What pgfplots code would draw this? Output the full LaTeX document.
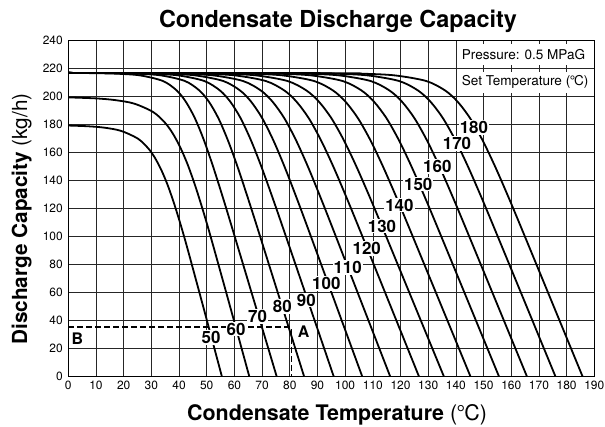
\documentclass[border=0pt]{standalone}
\usepackage{fontspec}
\setmainfont{TeX Gyre Heros}
\usepackage{pgfplots}
\pgfplotsset{compat=1.18}
\tikzset{
  curve/.style={black, line width=1.8bp, smooth, tension=0.5},
  lab/.style={fill=white, inner sep=1pt, font=\bfseries\fontsize{17}{17}\selectfont},
}
\begin{document}
\begin{tikzpicture}
\useasboundingbox (0,0) rectangle (605bp,427bp);
\begin{axis}[
  at={(68.3bp,50.3bp)}, anchor=south west,
  width=526bp, height=336bp, scale only axis,
  xmin=0, xmax=190, ymin=0, ymax=240,
  xtick={0,10,...,190}, ytick={0,20,...,240},
  grid=major,
  major grid style={black!85, line width=0.6bp},
  axis line style={black, line width=0.8bp},
  major tick length=0pt,
  tick label style={font=\fontsize{12}{14}\selectfont, /pgf/number format/assume math mode=true},
  xticklabel style={yshift=-1bp},
  yticklabel style={xshift=-2bp},
]
% legend box
\fill[white] (axis cs:140.4,202.3) rectangle (axis cs:189.6,217.7);
\fill[white] (axis cs:140.4,222.3) rectangle (axis cs:189.6,237.7);
\node[anchor=west, font=\fontsize{13.6}{15}\selectfont] at (axis cs:140.9,230.3) {Pressure: 0.5 MPaG};
\node[anchor=west, font=\fontsize{13.6}{15}\selectfont] at (axis cs:140.9,210.3) {Set Temperature (\kern-0.5pt°\kern-1ptC)};
% dashed reading line
\addplot[black, line width=1.8bp, dash pattern=on 6bp off 3bp] coordinates {(0,35.3) (80.6,35.3) (80.6,0)};
% curves
\addplot[curve] coordinates {(0,179.4) (6.85,178.9) (12.93,177.9) (19.01,175.6) (25.09,170.1) (28.74,163.4) (31.18,156.7) (33.61,147.6) (36.04,136.1) (38.47,122.1) (40.91,106.4) (43.34,89.4) (49.42,45) (55.5,0)};
\addplot[curve] coordinates {(0,199.5) (9.84,198.8) (16.79,197.6) (23.73,195.1) (30.68,189.0) (34.84,181.6) (37.62,174.1) (40.4,164.0) (43.18,151.2) (45.96,135.7) (48.73,118.2) (51.51,99.4) (58.46,50) (65.4,0)};
\addplot[curve] coordinates {(0,217) (9.54,216.8) (17.76,216.4) (25.98,215.2) (34.2,211.2) (39.13,204.5) (42.42,196.5) (45.71,184.7) (49.0,168.9) (52.28,150.2) (55.57,129.7) (58.86,108.4) (67.08,54.25) (75.3,0)};
\addplot[curve] coordinates {(0,217) (16.31,216.8) (24.92,216.4) (33.53,215.2) (42.14,211.2) (47.31,204.5) (50.76,196.5) (54.2,184.7) (57.64,168.9) (61.09,150.2) (64.53,129.7) (67.98,108.4) (76.59,54.25) (85.2,0)};
\addplot[curve] coordinates {(0,217) (21.07,216.8) (30.43,216.4) (39.78,215.2) (49.13,211.2) (54.74,204.5) (58.49,196.5) (62.23,184.7) (65.97,168.9) (69.71,150.2) (73.45,129.7) (77.19,108.4) (86.55,54.25) (95.9,0)};
\addplot[curve] coordinates {(0,217) (25.83,216.8) (35.88,216.4) (45.92,215.2) (55.97,211.2) (62.0,204.5) (66.01,196.5) (70.03,184.7) (74.05,168.9) (78.07,150.2) (82.09,129.7) (86.11,108.4) (96.15,54.25) (106.2,0)};
\addplot[curve] coordinates {(0,217) (31.2,216.8) (41.84,216.4) (52.48,215.2) (63.11,211.2) (69.5,204.5) (73.75,196.5) (78.01,184.7) (82.26,168.9) (86.52,150.2) (90.77,129.7) (95.03,108.4) (105.66,54.25) (116.3,0)};
\addplot[curve] coordinates {(0,217) (38.13,216.8) (49.2,216.4) (60.27,215.2) (71.34,211.2) (77.99,204.5) (82.41,196.5) (86.84,184.7) (91.27,168.9) (95.7,150.2) (100.13,129.7) (104.56,108.4) (115.63,54.25) (126.7,0)};
\addplot[curve] coordinates {(0,217) (45.28,216.8) (56.59,216.4) (67.89,215.2) (79.19,211.2) (85.97,204.5) (90.49,196.5) (95.01,184.7) (99.53,168.9) (104.05,150.2) (108.58,129.7) (113.1,108.4) (124.4,54.25) (135.7,0)};
\addplot[curve] coordinates {(0,217) (54.88,216.8) (66.19,216.4) (77.49,215.2) (88.79,211.2) (95.57,204.5) (100.09,196.5) (104.61,184.7) (109.13,168.9) (113.65,150.2) (118.18,129.7) (122.7,108.4) (134.0,54.25) (145.3,0)};
\addplot[curve] coordinates {(0,217) (65.18,216.8) (76.49,216.4) (87.79,215.2) (99.09,211.2) (105.87,204.5) (110.39,196.5) (114.91,184.7) (119.43,168.9) (123.95,150.2) (128.48,129.7) (133.0,108.4) (144.3,54.25) (155.6,0)};
\addplot[curve] coordinates {(0,217) (75.28,216.8) (86.59,216.4) (97.89,215.2) (109.19,211.2) (115.97,204.5) (120.49,196.5) (125.01,184.7) (129.53,168.9) (134.05,150.2) (138.58,129.7) (143.1,108.4) (154.4,54.25) (165.7,0)};
\addplot[curve] coordinates {(0,217) (85.58,216.8) (96.89,216.4) (108.19,215.2) (119.49,211.2) (126.27,204.5) (130.79,196.5) (135.31,184.7) (139.83,168.9) (144.35,150.2) (148.88,129.7) (153.4,108.4) (164.7,54.25) (176.0,0)};
\addplot[curve] coordinates {(0,217) (95.38,216.8) (106.69,216.4) (117.99,215.2) (129.29,211.2) (136.07,204.5) (140.59,196.5) (145.11,184.7) (149.63,168.9) (154.15,150.2) (158.68,129.7) (163.2,108.4) (174.5,54.25) (185.8,0)};
% curve labels
\node[lab] at (axis cs:51.6,28.1) {50};
\node[lab] at (axis cs:60.6,33.9) {60};
\node[lab] at (axis cs:68.4,42.9) {70};
\node[lab] at (axis cs:77.3,50) {80};
\node[lab] at (axis cs:86.0,54.8) {90};
\node[lab] at (axis cs:93.2,66.7) {100};
\node[lab] at (axis cs:100.9,78.1) {110};
\node[lab] at (axis cs:107.8,91.7) {120};
\node[lab] at (axis cs:113.3,107.6) {130};
\node[lab] at (axis cs:119.6,122.6) {140};
\node[lab] at (axis cs:126.4,137.6) {150};
\node[lab] at (axis cs:133.3,150) {160};
\node[lab] at (axis cs:140.4,166.7) {170};
\node[lab] at (axis cs:146.5,178.1) {180};
\node[font=\bfseries\fontsize{16}{16}\selectfont] at (axis cs:3.3,26.9) {B};
\node[font=\bfseries\fontsize{16}{16}\selectfont] at (axis cs:85,31.8) {A};
\end{axis}
\node[anchor=base, font=\bfseries\fontsize{23.5}{23.5}\selectfont] at (338bp,399bp) {Condensate Discharge Capacity};
\node[anchor=base, font=\fontsize{21.5}{21.5}\selectfont] at (337bp,7bp) {\textbf{Condensate Temperature} (\kern-0.5pt°\kern-1ptC)};
\node[anchor=base, rotate=90, font=\fontsize{20.8}{20.8}\selectfont] at (27bp,208bp) {\textbf{Discharge Capacity} (kg/h)};
\end{tikzpicture}
\end{document}
